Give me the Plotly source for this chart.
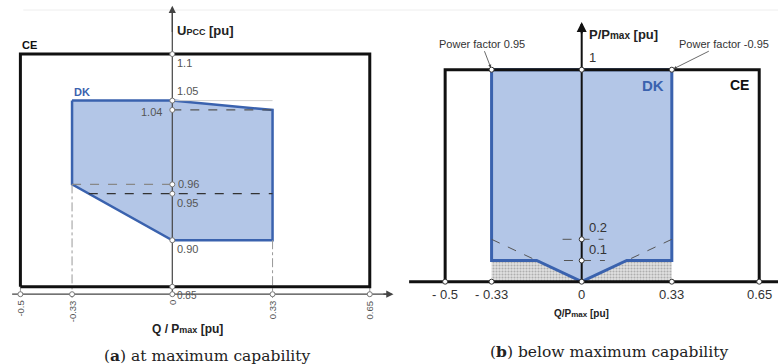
import plotly.graph_objects as go

W, H = 778, 364

# ---------------- data ----------------
# Panel (a): voltage vs reactive power at maximum capability
QA_TICKS = [-0.5, -0.33, 0, 0.33, 0.65]
QA_TICKTEXT = ["-0.5", "-0.33", "0", "0.33", "0.65"]
CE_A_Q = [-0.5, 0.65]
CE_A_U = [0.85, 1.1]
DK_A_Q = [-0.33, 0, 0.33, 0.33, 0, -0.33, -0.33]
DK_A_U = [1.05, 1.05, 1.04, 0.90, 0.90, 0.96, 1.05]
U_LEVELS = [1.1, 1.05, 1.04, 0.96, 0.95, 0.90, 0.85]
U_LEVEL_TEXT = ["1.1", "1.05", "1.04", "0.96", "0.95", "0.90", "0.85"]
UA_AXIS = 0.842         # where the Q axis crosses in panel (a)
UA_TOP = 1.152          # arrow tip of the U axis

# Panel (b): active vs reactive power below maximum capability
QB_TICKS = [-0.5, -0.33, 0, 0.33, 0.65]
QB_TICKTEXT = ["- 0.5", "- 0.33", "0", "0.33", "0.65"]
CE_B_Q = [-0.5, 0.65]
CE_B_P = [0, 1]
DK_B_Q = [-0.33, 0.33, 0.33, 0.165, 0, -0.165, -0.33, -0.33]
DK_B_P = [1, 1, 0.1, 0.1, 0, 0.1, 0.1, 1]
GREY_L_Q = [-0.33, 0, -0.165, -0.33, -0.33]
GREY_L_P = [0, 0, 0.1, 0.1, 0]
GREY_R_Q = [0.33, 0, 0.165, 0.33, 0.33]
GREY_R_P = [0, 0, 0.1, 0.1, 0]
P_LEVELS = [0.2, 0.1]
P_LEVEL_TEXT = ["0.2", "0.1"]
PF_Q = [-0.33, 0.33]
PF_TEXT = ["Power factor 0.95", "Power factor -0.95"]
PB_TOP = 1.225

# ---------------- layout calibration (pixels) ----------------
def rng(px0, px1, a, b):
    return [(px0 - a) / b, (px1 - a) / b]

xa_range = rng(0, 390, 172.3, 303.8)
# y (panel a): py = 167.1 - 930.7*(v-0.97857)
ya_range = [0.97857 - (364 - 167.1) / 930.7, 0.97857 + 167.1 / 930.7]
xb_range = rng(390, 778, 581.7, 273.1)
yb_range = [(281.7 - 364) / 212.0, 281.7 / 212.0]

BLUE_FILL = "#b3c6e7"
BLUE_LINE = "#3a62ae"
DARK = "#222222"
GREY = "#444444"
SANS = "Liberation Sans, Arial, sans-serif"
SERIF = "DejaVu Serif, serif"

fig = go.Figure()

def line(x, y, xa, ya, color, width, dash="solid"):
    fig.add_trace(go.Scatter(x=x, y=y, xaxis=xa, yaxis=ya, mode="lines",
                             line=dict(color=color, width=width, dash=dash),
                             hoverinfo="skip", showlegend=False, cliponaxis=False))

def dots(x, y, xa, ya, color="#555555"):
    fig.add_trace(go.Scatter(x=x, y=y, xaxis=xa, yaxis=ya, mode="markers",
                             marker=dict(size=5, color="white", line=dict(color=color, width=1)),
                             hoverinfo="skip", showlegend=False, cliponaxis=False))

# ===== Panel (a) =====
fig.add_trace(go.Scatter(x=DK_A_Q, y=DK_A_U, xaxis="x", yaxis="y", mode="lines",
                         fill="toself", fillcolor=BLUE_FILL,
                         line=dict(color=BLUE_LINE, width=2.5),
                         hoverinfo="skip", showlegend=False))
line([0, 0.33], [1.05, 1.05], "x", "y", "#d0d0d0", 1)
line([0, 0.33], [1.04, 1.04], "x", "y", "#555555", 1.2, "dash")
line([-0.33, 0], [0.96, 0.96], "x", "y", "#888888", 1.2, "dash")
q95 = -0.33 + (0.96 - 0.95) / (0.96 - 0.90) * 0.33
line([q95, 0.33], [0.95, 0.95], "x", "y", "#333333", 1.2, "dash")
for q, u in [(-0.5, 0.85), (-0.33, 0.96), (0.33, 0.90), (0.65, 0.85)]:
    line([q, q], [u, UA_AXIS - 0.004], "x", "y", "#999999", 1, "dashdot")
line([CE_A_Q[0], CE_A_Q[1], CE_A_Q[1], CE_A_Q[0], CE_A_Q[0]],
     [CE_A_U[0], CE_A_U[0], CE_A_U[1], CE_A_U[1], CE_A_U[0]], "x", "y", "#111111", 3)
line([0, 0], [UA_AXIS, UA_TOP - 0.005], "x", "y", GREY, 1.2)
line([xa_range[0] + 0.04, xa_range[1]], [UA_AXIS, UA_AXIS], "x", "y", GREY, 1.2)
dots([0] * len(U_LEVELS), U_LEVELS, "x", "y", "#777777")
dots(QA_TICKS, [UA_AXIS] * len(QA_TICKS), "x", "y", "#777777")

# ===== Panel (b) =====
for gq, gp in [(GREY_L_Q, GREY_L_P), (GREY_R_Q, GREY_R_P)]:
    fig.add_trace(go.Scatter(x=gq, y=gp, xaxis="x2", yaxis="y2", mode="lines",
                             fill="toself", fillcolor="#e0e0e0",
                             fillpattern=dict(shape=".", fgcolor="#7a7a7a", bgcolor="#e2e2e2",
                                              size=3, solidity=0.4),
                             line=dict(width=0), hoverinfo="skip", showlegend=False))
fig.add_trace(go.Scatter(x=DK_B_Q, y=DK_B_P, xaxis="x2", yaxis="y2", mode="lines",
                         fill="toself", fillcolor=BLUE_FILL,
                         line=dict(color=BLUE_LINE, width=3),
                         hoverinfo="skip", showlegend=False))
line([-0.33, -0.165], [0.2, 0.1], "x2", "y2", "#555555", 1, "dash")
line([0.33, 0.165], [0.2, 0.1], "x2", "y2", "#555555", 1, "dash")
line([-0.07, 0.08], [0.2, 0.2], "x2", "y2", "#555555", 1, "dash")
line([-0.065, 0.085], [0.1, 0.1], "x2", "y2", "#555555", 1, "dash")
line([CE_B_Q[0], CE_B_Q[0], CE_B_Q[1], CE_B_Q[1]],
     [CE_B_P[0], CE_B_P[1], CE_B_P[1], CE_B_P[0]], "x2", "y2", "#111111", 3)
line([xb_range[0] + 0.07, xb_range[1]], [0, 0], "x2", "y2", "#111111", 3)
line([0, 0], [0, PB_TOP - 0.01], "x2", "y2", "#111111", 2)
dots([-0.33, 0, 0.33], [1, 1, 1], "x2", "y2", "#333333")
dots([0] * len(P_LEVELS), P_LEVELS, "x2", "y2", "#333333")
dots(QB_TICKS, [0] * len(QB_TICKS), "x2", "y2", "#333333")

ann = []
ann.append(dict(x=0, y=UA_TOP, ax=0, ay=UA_TOP - 0.03, xref="x", yref="y", axref="x", ayref="y",
                showarrow=True, arrowhead=2, arrowsize=1.2, arrowwidth=1.2, arrowcolor=GREY, text=""))
ann.append(dict(x=0.728, y=UA_AXIS, ax=0.69, ay=UA_AXIS, xref="x", yref="y", axref="x", ayref="y",
                showarrow=True, arrowhead=2, arrowsize=1.2, arrowwidth=1.2, arrowcolor=GREY, text=""))
ann.append(dict(x=0, y=PB_TOP, ax=0, ay=PB_TOP - 0.06, xref="x2", yref="y2", axref="x2", ayref="y2",
                showarrow=True, arrowhead=2, arrowsize=1, arrowwidth=2, arrowcolor="#111111", text=""))

# panel (a) texts
ann.append(dict(x=0.01, y=1.125, xref="x", yref="y", xanchor="left", yanchor="middle", showarrow=False,
                text="<b>U<span style='font-size:9px'>PCC</span> [pu]</b>",
                font=dict(family=SANS, size=13, color=DARK)))
ann.append(dict(x=CE_A_Q[0], y=CE_A_U[1], xref="x", yref="y", xanchor="left", yanchor="bottom",
                yshift=1, showarrow=False, text="<b>CE</b>", font=dict(family=SANS, size=11, color="#111")))
ann.append(dict(x=-0.33, y=1.05, xref="x", yref="y", xanchor="left", yanchor="bottom",
                yshift=1, showarrow=False, text="<b>DK</b>", font=dict(family=SANS, size=11, color=BLUE_LINE)))
offs = {"1.1": "right-below", "1.05": "right-above", "1.04": "left", "0.96": "right",
        "0.95": "right-below", "0.90": "right-below", "0.85": "right-below"}
for u, t in zip(U_LEVELS, U_LEVEL_TEXT):
    mode = offs[t]
    d = dict(x=0, y=u, xref="x", yref="y", showarrow=False, text=t,
             font=dict(family=SANS, size=11 if t != "0.85" else 10, color="#555555"))
    if mode == "left":
        d.update(xanchor="right", yanchor="middle", xshift=-8, yshift=-2)
    elif mode == "right":
        d.update(xanchor="left", yanchor="middle", xshift=4)
    elif mode == "right-above":
        d.update(xanchor="left", yanchor="bottom", xshift=3, yshift=2)
    else:
        d.update(xanchor="left", yanchor="top", xshift=3, yshift=-1)
    ann.append(d)
for q, t in zip(QA_TICKS, QA_TICKTEXT):
    ann.append(dict(x=q, y=UA_AXIS, xref="x", yref="y", xanchor="center", yanchor="top", yshift=-4,
                    textangle=-90, showarrow=False, text=t,
                    font=dict(family=SANS, size=9.5, color="#555555")))
ann.append(dict(x=0.05, y=UA_AXIS, xref="x", yref="y", xanchor="center", yanchor="top", yshift=-26,
                showarrow=False, text="<b>Q / P<span style='font-size:9px'>max</span> [pu]</b>",
                font=dict(family=SANS, size=12, color=DARK)))
ann.append(dict(x=207 / W, y=1 - 355 / H, xref="paper", yref="paper", xanchor="center", yanchor="middle",
                showarrow=False, text="(<b>a</b>) at maximum capability",
                font=dict(family=SERIF, size=15.5, color="#222")))

# panel (b) texts
for q, t in zip(QB_TICKS, QB_TICKTEXT):
    ann.append(dict(x=q, y=0, xref="x2", yref="y2", xanchor="center", yanchor="top", yshift=-3,
                    showarrow=False, text=t, font=dict(family=SANS, size=13, color="#333")))
ann.append(dict(x=0, y=0, xref="x2", yref="y2", xanchor="center", yanchor="top", yshift=-24,
                showarrow=False, text="<b>Q/P<span style='font-size:8px'>max</span> [pu]</b>",
                font=dict(family=SANS, size=10, color=DARK)))
ann.append(dict(x=0, y=PB_TOP, xref="x2", yref="y2", xanchor="left", yanchor="top", xshift=5, yshift=-3,
                showarrow=False, text="<b>P/P<span style='font-size:10px'>max</span> [pu]</b>",
                font=dict(family=SANS, size=13, color=DARK)))
ann.append(dict(x=0, y=1, xref="x2", yref="y2", xanchor="left", yanchor="bottom", xshift=5, yshift=3,
                showarrow=False, text="1", font=dict(family=SANS, size=13, color="#333")))
for p, t in zip(P_LEVELS, P_LEVEL_TEXT):
    ann.append(dict(x=0, y=p, xref="x2", yref="y2", xanchor="left", yanchor="bottom", xshift=5, yshift=2,
                    showarrow=False, text=t, font=dict(family=SANS, size=13, color="#333")))
ann.append(dict(x=0.33, y=1, xref="x2", yref="y2", xanchor="right", yanchor="top", xshift=-6, yshift=-5,
                showarrow=False, text="<b>DK</b>", font=dict(family=SANS, size=15, color=BLUE_LINE)))
ann.append(dict(x=0.65, y=1, xref="x2", yref="y2", xanchor="right", yanchor="top", xshift=-8, yshift=-5,
                showarrow=False, text="<b>CE</b>", font=dict(family=SANS, size=14, color="#111")))
for q, t, axp in zip(PF_Q, PF_TEXT, [-10, 52]):
    ann.append(dict(x=q, y=1, xref="x2", yref="y2", ax=axp, ay=-26, showarrow=True,
                    arrowhead=2, arrowsize=0.8, arrowwidth=0.8, arrowcolor="#444", standoff=2,
                    text=t, font=dict(family=SANS, size=11, color="#333")))
ann.append(dict(x=609 / W, y=1 - 351 / H, xref="paper", yref="paper", xanchor="center", yanchor="middle",
                showarrow=False, text="(<b>b</b>) below maximum capability",
                font=dict(family=SERIF, size=15.5, color="#222")))

fig.update_layout(
    width=W, height=H, margin=dict(l=0, r=0, t=0, b=0),
    paper_bgcolor="white", plot_bgcolor="rgba(0,0,0,0)",
    showlegend=False, annotations=ann,
    xaxis=dict(domain=[0, 390 / W], range=xa_range, visible=False, fixedrange=True),
    yaxis=dict(domain=[0, 1], range=ya_range, visible=False, fixedrange=True),
    xaxis2=dict(domain=[390 / W, 1], range=xb_range, visible=False, fixedrange=True),
    yaxis2=dict(domain=[0, 1], range=yb_range, visible=False, fixedrange=True, anchor="x2"),
    shapes=[dict(type="line", xref="paper", yref="paper", x0=0.03, x1=1, y0=1 - 10 / H, y1=1 - 10 / H,
                 line=dict(color="#eeeeee", width=1))],
)

fig.write_html("out.html")
